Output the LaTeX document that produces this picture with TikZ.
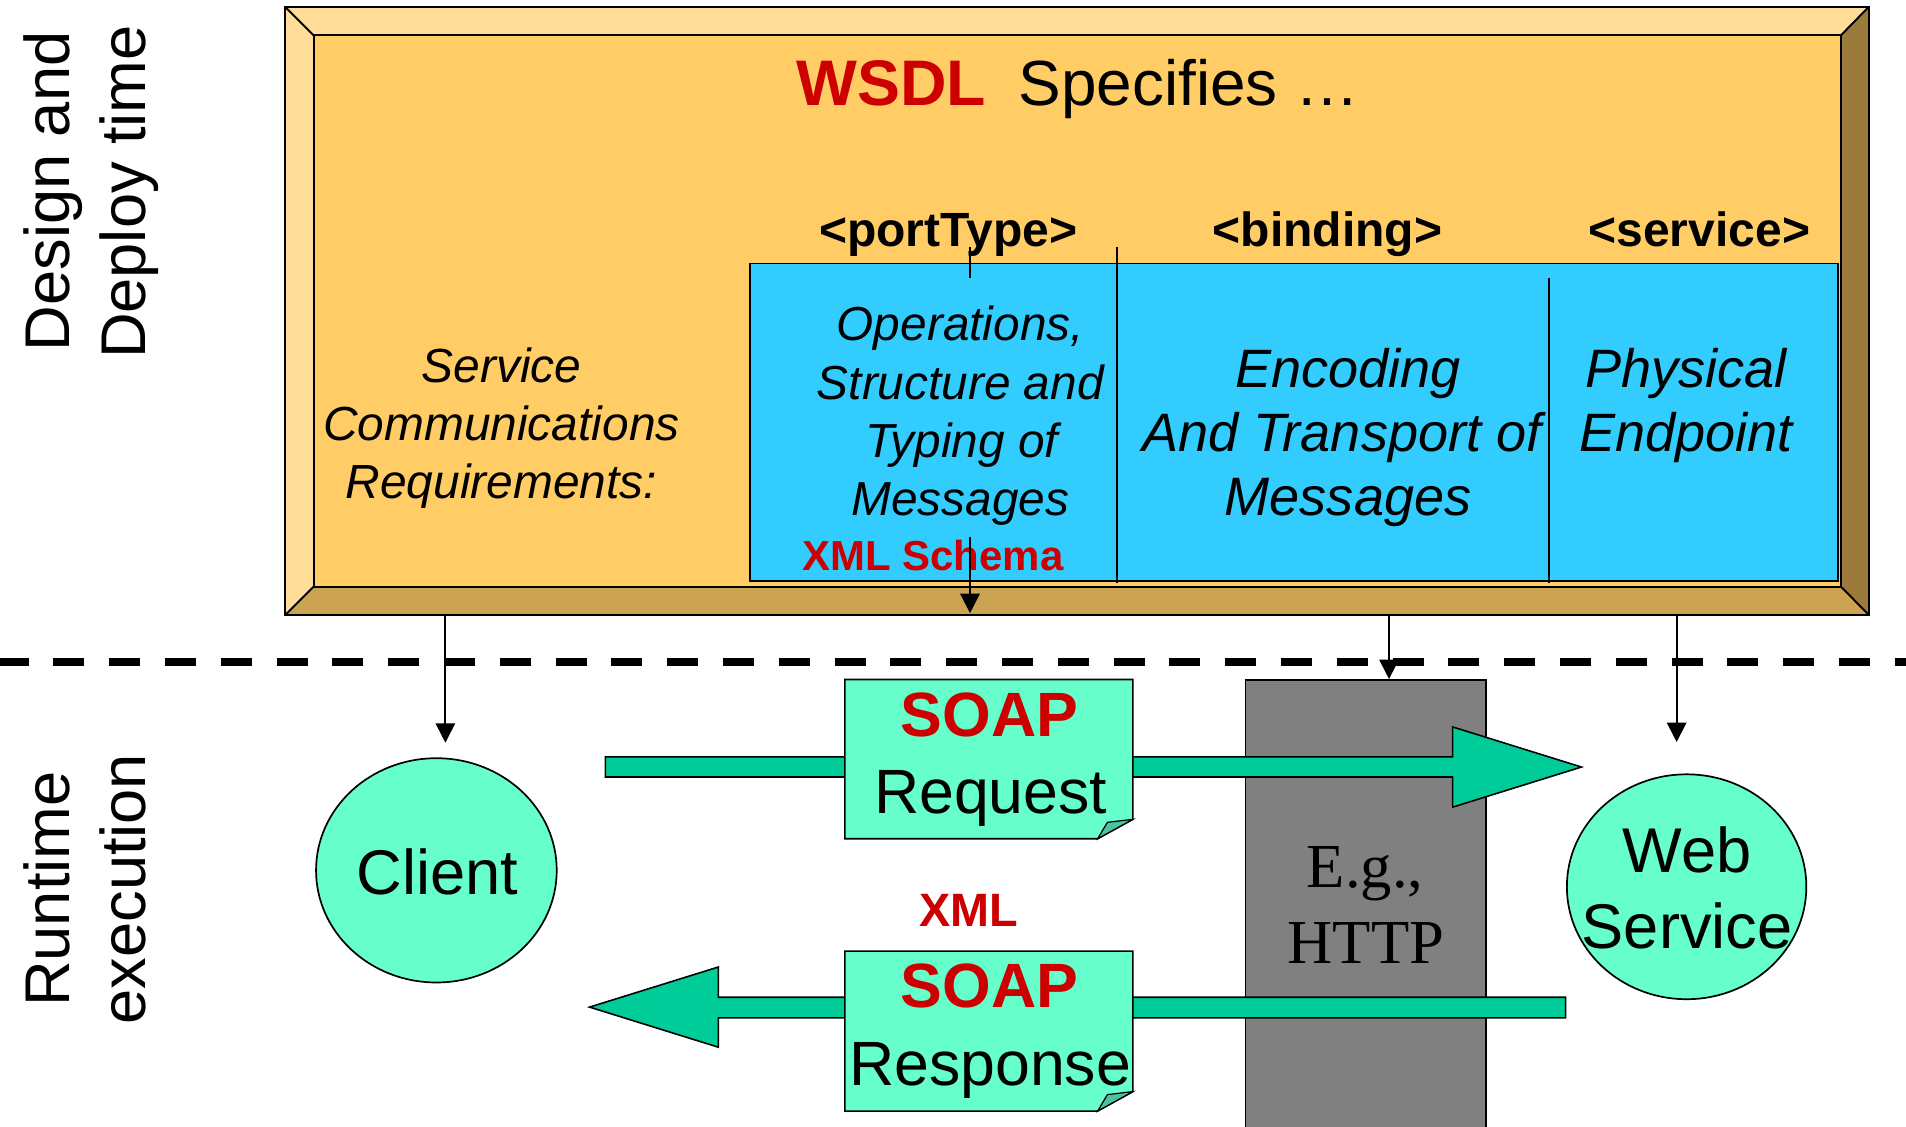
\documentclass[tikz,border=0pt]{standalone}
\usepackage{fontspec}
\setmainfont{Liberation Sans}
\newfontfamily\timesfont{Liberation Serif}
\usetikzlibrary{arrows.meta,shapes.geometric}
\newcommand{\fsz}[1]{\fontsize{#1}{#1}\selectfont}
\definecolor{wsdlorange}{HTML}{FFCC66}
\definecolor{bevlight}{HTML}{FFDD99}
\definecolor{bevdark}{HTML}{CCA352}
\definecolor{bevside}{HTML}{9C7A3C}
\definecolor{defblue}{HTML}{33CCFF}
\definecolor{wsdlred}{HTML}{CC0000}
\definecolor{mint}{HTML}{66FFCC}
\definecolor{flowteal}{HTML}{00CC99}
\definecolor{foldteal}{HTML}{4DC2A0}
\definecolor{httpgray}{HTML}{808080}
\begin{document}
\begin{tikzpicture}[x=1pt,y=-1pt,line join=miter,
  lbl/.style={inner sep=0pt,anchor=base},
  frameline/.style={draw=black,line width=1.6pt},
  conline/.style={draw=black,line width=1.5pt},
  conn/.style={draw=black,line width=1.5pt,-{Triangle[width=16pt,length=16pt]}},
  flowarrow/.style={fill=flowteal,draw=black,line width=1.3pt},
  msgbox/.style={fill=mint,draw=black,line width=1.3pt},
  foldc/.style={fill=foldteal,draw=black,line width=1pt},
  actor/.style={ellipse,fill=mint,draw=black,line width=1.4pt,inner sep=0pt},
  italt/.style={lbl,font=\fsz{39.4}\itshape},
  italc/.style={lbl,font=\fsz{39.3}\itshape},
  italb/.style={lbl,font=\fsz{44.5}\itshape},
  hdr/.style={lbl,font=\fsz{39.5}\bfseries},
  side/.style={lbl,font=\fsz{52},rotate=90},
  big/.style={lbl,font=\fsz{52}},
  soap/.style={lbl,font=\fsz{51.5}\bfseries,text=wsdlred},
  msg/.style={lbl,font=\fsz{51.5}}
]
\useasboundingbox (0,0) rectangle (1568,927);

% ---------- WSDL frame ----------
\coordinate (oTL) at (234.5,5.5);
\coordinate (oTR) at (1537.5,5.5);
\coordinate (oBR) at (1537.5,506);
\coordinate (oBL) at (234.5,506);
\coordinate (iTL) at (258,29);
\coordinate (iTR) at (1514.5,29);
\coordinate (iBR) at (1514.5,482.6);
\coordinate (iBL) at (258,482.6);
\fill[bevlight] (oTL) -- (oTR) -- (iTR) -- (iTL) -- (iBL) -- (oBL) -- cycle;
\fill[bevdark] (oBL) -- (iBL) -- (iBR) -- (oBR) -- cycle;
\fill[bevside] (oTR) -- (oBR) -- (iBR) -- (iTR) -- cycle;
\draw[frameline] (oTL) -- (iTL) (oTR) -- (iTR) (oBR) -- (iBR) (oBL) -- (iBL);
\draw[frameline,fill=wsdlorange] (iTL) rectangle (iBR);
\draw[frameline] (oTL) rectangle (oBR);

% title
\node[lbl,anchor=base west,font=\fsz{53}\bfseries,text=wsdlred] (wsdl) at (655,87) {WSDL};
\node[lbl,anchor=base west,font=\fsz{52.5}] (spec) at (838,87) {Specifies …};

% headers
\node[hdr] (hport) at (780,203) {<portType>};
\node[hdr] (hbind) at (1092,203) {<binding>};
\node[hdr] (hserv) at (1398,203) {<service>};

% blue definitions box
\node[anchor=north west,fill=defblue,draw=black,line width=1.4pt,inner sep=0pt,
  minimum width=895,minimum height=261] (defs) at (616.4,216) {};

% dividers and portType connector
\coordinate (d1t) at (919,203);   \coordinate (d1b) at (919,480);
\coordinate (d2t) at (1274,229);  \coordinate (d2b) at (1274,480);
\coordinate (p1t) at (798,203);   \coordinate (p1b) at (798,229);
\coordinate (p2t) at (798,442);   \coordinate (p2b) at (798,504.4);
\draw[conline] (d1t) -- (d1b);
\draw[conline] (d2t) -- (d2b);
\draw[conline] (p1t) -- (p1b);

% service communications requirements
\node[italt] (sc1) at (412.5,314.8) {Service};
\node[italt] (sc2) at (412.5,362) {Communications};
\node[italt] (sc3) at (412.5,410) {Requirements:};

% portType column
\node[italc] (op1) at (790,280) {Operations,};
\node[italc] (op2) at (790,328.5) {Structure and};
\node[italc] (op3) at (791,376.5) {Typing of};
\node[italc] (op4) at (790,424) {Messages};
\node[lbl,font=\fsz{34.5}\bfseries,text=wsdlred] (xsd) at (767.5,469) {XML Schema};
\draw[conn] (p2t) -- (p2b);

% binding column
\node[italb] (en1) at (1109,319) {Encoding};
\node[italb] (en2) at (1104,371.5) {And Transport of};
\node[italb] (en3) at (1109,424) {Messages};

% service column
\node[italb] (ph1) at (1387,319) {Physical};
\node[italb] (ph2) at (1387,371.5) {Endpoint};

% side labels
\node[side] (dz1) at (57,157.5) {Design and};
\node[side] (dz2) at (120,158) {Deploy time};
\node[side] (rt1) at (57,731.5) {Runtime};
\node[side] (rt2) at (120,731.5) {execution};

% ---------- dashed boundary ----------
\coordinate (dashL) at (0,544.6);
\coordinate (dashR) at (1568,544.6);
\draw[line width=6pt,dash pattern=on 25.5pt off 20.4pt,dash phase=1.9pt] (dashL) -- (dashR);

% ---------- runtime ----------
\node[anchor=north west,fill=httpgray,draw=black,line width=1.3pt,inner sep=0pt,
  minimum width=198,minimum height=372] (http) at (1024,558.6) {};
\node[lbl,font=\fsz{51.5}\timesfont] (eg) at (1123,729.7) {E.g.,};
\node[lbl,font=\fsz{51.5}\timesfont] (hp) at (1123.7,793) {HTTP};

% vertical connectors from the WSDL frame
\coordinate (cliS) at (366.4,506);  \coordinate (cliE) at (366.4,611);
\coordinate (bndS) at (1142.7,506);
\coordinate (wsS) at (1379.3,506);  \coordinate (wsE) at (1379.3,610.4);
\draw[conn] (cliS) -- (cliE);
\draw[conn] (bndS) -- (bndS |- http.north);
\draw[conn] (wsS) -- (wsE);

% request flow arrow
\coordinate (reqA) at (498,631);
\coordinate (reqT) at (1301,631);
\draw[flowarrow] (498,622.7) -- (1195,622.7) -- (1195,598) -- (reqT) -- (1195,664)
  -- (1195,639.2) -- (498,639.2) -- cycle;

% response flow arrow
\coordinate (resA) at (1288,828.5);
\coordinate (resT) at (485,828.5);
\draw[flowarrow] (1288,820.4) -- (591,820.4) -- (591,795.5) -- (resT) -- (591,861.5)
  -- (591,837.3) -- (1288,837.3) -- cycle;

% SOAP request message
\coordinate (rqTL) at (695,559);
\draw[msgbox] (rqTL) -- (932,559) -- (932,674) -- (903,690) -- (695,690) -- cycle;
\draw[foldc] (903,690) -- (932,674) -- (911,676.5) -- cycle;
\node[soap] (soap1) at (814,606) {SOAP};
\node[msg] (req) at (815,669.6) {Request};

% XML label
\node[lbl,font=\fsz{38.5}\bfseries,text=wsdlred] (xml) at (797,762) {XML};

% SOAP response message
\coordinate (rsTL) at (695,782.4);
\draw[msgbox] (rsTL) -- (932,782.4) -- (932,898) -- (903,914) -- (695,914) -- cycle;
\draw[foldc] (903,914) -- (932,898) -- (911,900.5) -- cycle;
\node[soap] (soap2) at (814,829) {SOAP};
\node[msg] (resp) at (814.5,892.6) {Response};

% actors
\node[actor,minimum width=198,minimum height=184.5] (client) at (359,716) {};
\node[big] (clientt) at (360,736) {Client};
\node[actor,minimum width=197,minimum height=185] (ws) at (1387.5,729.5) {};
\node[big] (ws1) at (1388,717.7) {Web};
\node[big] (ws2) at (1388,780) {Service};
\end{tikzpicture}
\end{document}
